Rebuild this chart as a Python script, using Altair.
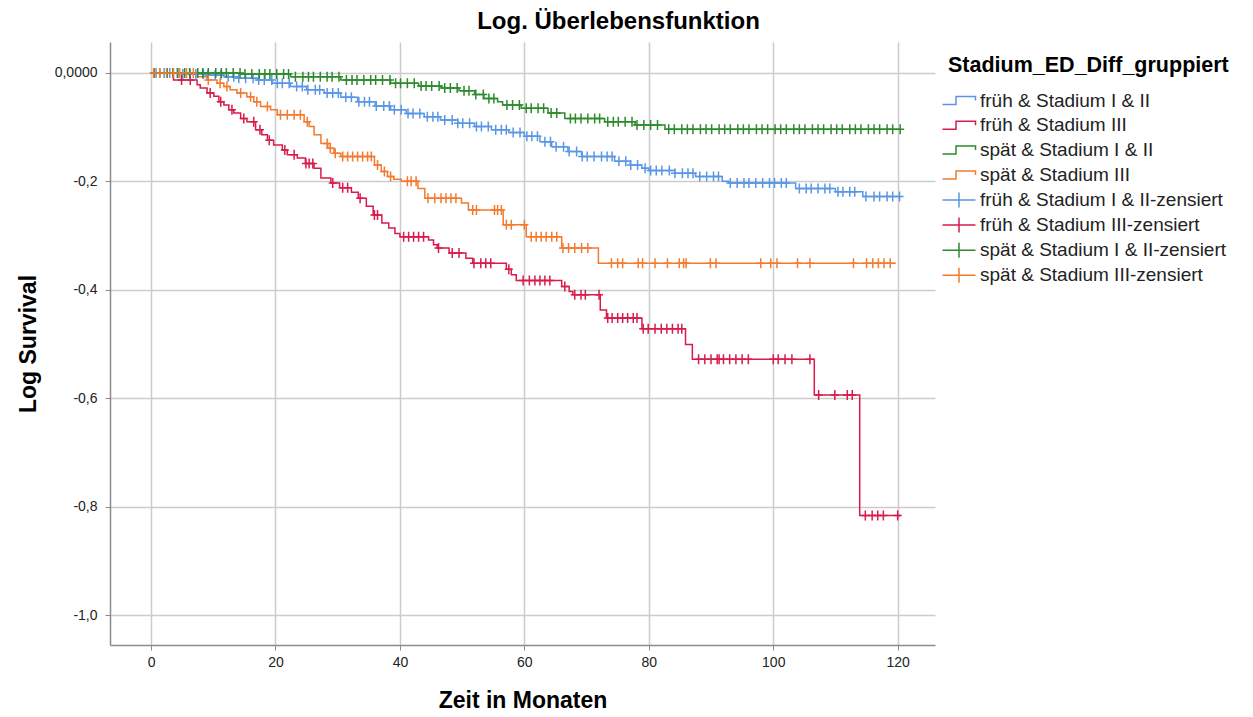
import altair as alt
import numpy as np
import pandas as pd

SERIES = ["früh & Stadium I & II", "früh & Stadium III",
          "spät & Stadium I & II", "spät & Stadium III"]
CENSORED = [s + "-zensiert" for s in SERIES]
COLORS = ["#5a96e6", "#d81b4a", "#2c8a2c", "#f47a30"]

X_TICKS = [0, 20, 40, 60, 80, 100, 120]
Y_TICKS = [0, -0.2, -0.4, -0.6, -0.8, -1.0]

# ---- früh & Stadium I & II (blue)
blue_t = [0, 5, 9, 11.7, 14, 17.1, 19.5, 22.4, 25, 27.8, 30.5, 33.2, 36, 38.5, 41,
          43.9, 46.5, 49.3, 52, 54.7, 57.5, 60, 62.5, 64.4, 67, 69.2, 74.5, 77,
          78.9, 80, 84.2, 87.5, 91.8, 92.8, 103.6, 110, 114.4]
blue_v = [0, -0.002, -0.004, -0.007, -0.010, -0.013, -0.019, -0.025, -0.031, -0.037,
          -0.045, -0.053, -0.061, -0.068, -0.075, -0.081, -0.087, -0.093, -0.099,
          -0.105, -0.110, -0.117, -0.127, -0.136, -0.145, -0.154, -0.163, -0.170,
          -0.176, -0.180, -0.185, -0.191, -0.200, -0.203, -0.213, -0.219, -0.228]
blue_end = 120.5
blue_c = [0.8, 2.1, 3.0, 4.2, 5.1, 6.3, 7.2, 8.4, 9.1, 10.3, 11.2, 12.4, 13.3, 14.1,
          15.2, 16.4, 17.3, 18.2, 19.4, 20.3, 21.1, 22.2, 23.4, 24.3, 25.2, 26.4,
          27.1, 28.3, 29.2, 30.1, 31.3, 32.2, 33.4, 34.3, 35.1, 36.2, 37.4, 38.3,
          39.1, 40.2, 41.3, 42.1, 43.2, 44.4, 45.3, 46.1, 47.2, 48.4, 49.3, 50.1,
          51.2, 52.3, 53.1, 54.2, 55.4, 56.3, 57.1, 58.2, 59.3, 60.4, 61.2, 62.1,
          63.3, 64.2, 65.1, 66.3, 67.2, 68.4, 69.3, 70.1, 71.2, 72.4, 73.3, 74.1,
          75.2, 76.3, 77.1, 78.2, 79.4, 80.3, 81.2, 82.1, 83.3, 84.2, 85.4, 86.3,
          87.1, 88.2, 89.3, 90.4, 91.2, 93.1, 94.2, 95.3, 96.1, 97.2, 98.3, 99.4,
          100.2, 101.3, 102.1, 104.2, 105.3, 106.1, 107.2, 108.3, 109.1, 110.4,
          111.2, 112.3, 113.1, 114.9, 116.2, 117.1, 118.3, 119.2, 120.3]

# ---- früh & Stadium III (red)
red_t = [0, 3.6, 7.4, 7.9, 9.0, 10.1, 10.9, 11.7, 12.5, 13.3, 14.4, 15.4, 16.8, 17.8,
         18.7, 19.7, 21.1, 21.9, 23.5, 24.8, 26.2, 27.3, 28.9, 30.3, 32.2, 33.3, 34.6,
         35.7, 37.1, 38.2, 39.2, 40.0, 44.6, 45.4, 46.0, 47.9, 50.6, 51.7, 57.1, 57.9,
         58.7, 66.0, 67.2, 67.8, 72.2, 73.2, 78.9, 85.9, 87.0, 106.6, 113.9]
red_v = [0, -0.013, -0.022, -0.028, -0.037, -0.043, -0.053, -0.059, -0.068, -0.074,
         -0.084, -0.090, -0.105, -0.114, -0.124, -0.133, -0.142, -0.151, -0.157,
         -0.167, -0.176, -0.194, -0.203, -0.212, -0.220, -0.231, -0.246, -0.262,
         -0.277, -0.286, -0.296, -0.302, -0.308, -0.317, -0.323, -0.332, -0.342,
         -0.351, -0.362, -0.372, -0.383, -0.394, -0.403, -0.409, -0.437, -0.452,
         -0.472, -0.501, -0.528, -0.594, -0.816]
red_end = 120.5
red_c = [4.9, 6.3, 9.5, 11.2, 13.0, 14.9, 16.5, 17.5, 19.0, 21.5, 23.0, 24.9, 25.4,
         26.0, 29.2, 30.8, 31.6, 33.6, 35.9, 36.4, 40.6, 41.4, 42.2, 43.0, 43.8,
         46.2, 48.4, 49.5, 51.9, 53.0, 53.8, 54.6, 57.5, 59.8, 60.8, 61.7, 62.5,
         63.3, 64.1, 66.5, 68.1, 69.1, 69.8, 72.0, 73.4, 74.1, 75.0, 75.8, 76.6,
         77.5, 78.1, 79.1, 79.9, 81.0, 82.0, 82.9, 83.8, 84.7, 85.3, 88.0, 89.0,
         90.0, 91.0, 91.3, 92.0, 93.0, 94.0, 95.0, 96.0, 100.0, 100.8, 101.9, 103.0,
         105.9, 107.3, 109.9, 111.9, 112.7, 114.8, 115.9, 116.8, 117.7, 120.0]

# ---- spät & Stadium I & II (green)
green_t = [0, 14.4, 22.4, 30.5, 38.5, 43, 46.6, 49.5, 52, 53.5, 55.7, 56.5, 59.5,
           63.8, 66.5, 72.9, 77.8, 82.6]
green_v = [0, -0.002, -0.007, -0.013, -0.019, -0.024, -0.028, -0.033, -0.040, -0.047,
           -0.053, -0.059, -0.065, -0.074, -0.084, -0.090, -0.096, -0.104]
green_end = 120.5
green_c = [0.5, 1.4, 2.6, 3.5, 4.3, 5.4, 6.2, 7.5, 8.3, 9.2, 10.4, 11.3, 12.1, 13.2,
           14.3, 15.1, 16.2, 17.4, 18.3, 19.1, 20.2, 21.3, 22.1, 23.2, 24.4, 25.3,
           26.1, 27.2, 28.3, 29.1, 30.2, 31.4, 32.3, 33.1, 34.2, 35.3, 36.1, 37.2,
           38.4, 39.3, 40.1, 41.2, 42.3, 43.4, 44.2, 45.1, 46.3, 47.2, 48.1, 49.2,
           50.3, 51.1, 52.2, 53.4, 54.3, 55.1, 57.2, 58.1, 59.2, 60.3, 61.1, 62.2,
           63.1, 64.3, 65.2, 67.4, 68.2, 69.1, 70.2, 71.3, 72.1, 73.4, 74.3, 75.1,
           76.2, 77.3, 78.1, 79.2, 80.3, 81.4, 83.2, 84.1, 85.3, 86.2, 87.1, 88.3,
           89.2, 90.1, 91.3, 92.2, 93.1, 94.3, 95.2, 96.1, 97.3, 98.2, 99.1, 100.3,
           101.2, 102.1, 103.3, 104.2, 105.1, 106.3, 107.2, 108.1, 109.3, 110.2,
           111.1, 112.3, 113.2, 114.1, 115.3, 116.2, 117.1, 118.3, 119.2, 120.4]

# ---- spät & Stadium III (orange)
orange_t = [0, 7.4, 9.0, 10.6, 11.7, 12.7, 13.8, 15.4, 16.5, 17.6, 19.2, 20.3, 24.6,
            25.4, 26.2, 27.3, 28.4, 29.4, 30.5, 35.9, 37.0, 38.0, 39.0, 40.2, 42.9,
            44.0, 49.9, 51.0, 56.6, 60.3, 66.0, 71.9]
orange_v = [0, -0.007, -0.013, -0.019, -0.025, -0.031, -0.037, -0.044, -0.053, -0.062,
            -0.068, -0.077, -0.090, -0.099, -0.114, -0.130, -0.139, -0.148, -0.154,
            -0.170, -0.182, -0.191, -0.196, -0.200, -0.213, -0.231, -0.240, -0.253,
            -0.280, -0.302, -0.323, -0.351]
orange_end = 119.7
orange_c = [0.4, 1.4, 2.5, 3.6, 4.6, 5.7, 6.8, 9.2, 11.1, 12.2, 14.4, 16.0, 17.0,
            18.7, 20.8, 21.9, 23.0, 24.0, 25.1, 28.3, 28.8, 29.6, 30.8, 31.6, 32.4,
            33.2, 34.0, 34.8, 35.4, 36.4, 37.5, 38.5, 41.2, 41.8, 42.6, 44.5, 45.6,
            46.6, 47.4, 48.2, 49.0, 51.7, 52.3, 55.2, 55.7, 56.3, 57.1, 57.9, 60.0,
            61.1, 61.9, 62.7, 63.5, 64.4, 65.2, 66.2, 67.1, 68.1, 69.2, 70.2, 74.0,
            75.0, 75.8, 78.3, 79.0, 81.0, 83.0, 84.9, 85.6, 86.0, 89.9, 90.8, 98.0,
            99.6, 100.6, 103.9, 105.9, 112.9, 115.0, 116.0, 116.9, 117.8, 118.8]

groups = [
    (SERIES[0], CENSORED[0], blue_t, blue_v, blue_end, blue_c),
    (SERIES[1], CENSORED[1], red_t, red_v, red_end, red_c),
    (SERIES[2], CENSORED[2], green_t, green_v, green_end, green_c),
    (SERIES[3], CENSORED[3], orange_t, orange_v, orange_end, orange_c),
]

line_rows, cens_rows = [], []
for name, cname, ts, vs, end, cs in groups:
    for t, v in zip(ts, vs):
        line_rows.append({"series": name, "t": t, "v": v})
    line_rows.append({"series": name, "t": end, "v": vs[-1]})
    idx = np.searchsorted(np.array(ts), np.array(cs), side="right") - 1
    for c, i in zip(cs, idx):
        cens_rows.append({"group": cname, "t": c, "v": vs[i]})

df_line = pd.DataFrame(line_rows)
df_cens = pd.DataFrame(cens_rows)

FONT = "Liberation Sans"
# legend symbols (symbolSize 400 -> one path unit = 10 px)
STEP_SYMBOL = "M-1.65,0.4L-0.3,0.4L-0.3,-0.4L1.65,-0.4L1.65,0"
WIDE_CROSS = "M-1.65,0L1.65,0M0,-0.75L0,0.75"
PLOT_CROSS = "M-0.8,0L0.8,0M0,-1L0,1"

y_label_expr = ("datum.value == 0 ? '0,0000' : "
                "replace(replace(format(datum.value, '.1f'), '.', ','), '\u2212', '-')")

x_enc = alt.X(
    "t:Q",
    scale=alt.Scale(domain=[-6.6, 126], nice=False, zero=False),
    axis=alt.Axis(values=X_TICKS, title="Zeit in Monaten", format="d",
                  titlePadding=20, labelPadding=5),
)
y_enc = alt.Y(
    "v:Q",
    scale=alt.Scale(domain=[-1.055, 0.057], nice=False, zero=False),
    axis=alt.Axis(values=Y_TICKS, title="Log Survival", labelExpr=y_label_expr,
                  titleX=-70, labelPadding=8),
)

legend_common = dict(
    orient="none", legendX=838, symbolSize=400, symbolStrokeWidth=1.5,
    labelFont=FONT, labelFontSize=19, labelColor="#222222", labelOffset=10,
    labelLimit=0, titleLimit=0,
    titleFont=FONT, titleFontSize=21.5, titleFontWeight="bold",
    titleColor="#000000", titlePadding=13,
)

lines = alt.Chart(df_line).mark_line(interpolate="step-after", strokeWidth=1.5).encode(
    x=x_enc, y=y_enc,
    color=alt.Color("series:N",
                    scale=alt.Scale(domain=SERIES, range=COLORS),
                    legend=alt.Legend(title="Stadium_ED_Diff_gruppiert", legendY=13,
                                      rowPadding=3.8, symbolType=STEP_SYMBOL,
                                      **legend_common)),
    order="t:Q",
)

cens = alt.Chart(df_cens).mark_point(
    shape=PLOT_CROSS, filled=False, size=100, strokeWidth=1.5, opacity=1
).encode(
    x=x_enc, y=y_enc,
    stroke=alt.Stroke("group:N",
                      scale=alt.Scale(domain=CENSORED, range=COLORS),
                      legend=alt.Legend(title=None, legendY=147, rowPadding=3.1,
                                        symbolType=WIDE_CROSS, **legend_common)),
)

chart = alt.layer(lines, cens).properties(
    width=825, height=603,
    autosize=alt.AutoSizeParams(type="none"),
    padding={"left": 110, "top": 42, "right": 318, "bottom": 72},
    title=alt.TitleParams("Log. Überlebensfunktion", font=FONT, fontSize=24,
                          fontWeight="bold", color="#000000", anchor="middle",
                          offset=8, dx=96),
).configure(background="white").configure_view(stroke=None).configure_axis(
    domainColor="#8c8c8c", domainWidth=1.5, gridColor="#cccccc", gridWidth=1.5,
    tickColor="#8c8c8c", tickSize=5, labelFont=FONT, labelFontSize=14,
    labelColor="#222222", titleFont=FONT, titleFontSize=23, titleFontWeight="bold",
    titleColor="#000000",
)

chart.save("out.html", embed_options={"renderer": "svg", "actions": False})
